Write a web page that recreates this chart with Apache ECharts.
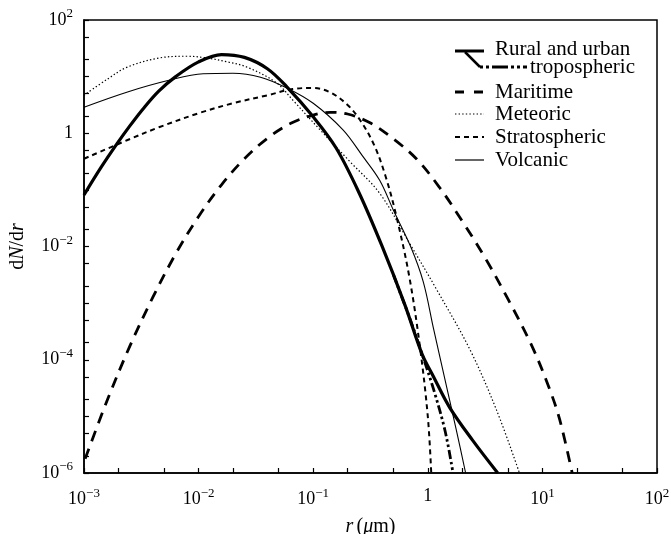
<!DOCTYPE html>
<html><head><meta charset="utf-8">
<script src="https://cdn.jsdelivr.net/npm/echarts@6/dist/echarts.min.js"></script>
<style>html,body{margin:0;padding:0;background:#fff}#c{width:671px;height:534px}</style>
</head><body><div id="c"></div>
<script>
// Tick values (log axes)
const xTickLabels = [0.001, 0.01, 0.1, 1, 10, 100];
const xTicks = [0.001,0.002,0.005,0.01,0.02,0.05,0.1,0.2,0.5,1,2,5,10,20,50,100];
const yTickLabels = [1e-6, 1e-4, 1e-2, 1, 100];
const yTicks = [1e-6,2e-6,5e-6,1e-5,2e-5,5e-5,1e-4,2e-4,5e-4,1e-3,2e-3,5e-3,1e-2,2e-2,5e-2,0.1,0.2,0.5,1,2,5,10,20,50,100];

// Curves, as log10(r [um]) and log10(dN/dr)
const ruralLogR = [-3.00,-2.85,-2.71,-2.60,-2.485,-2.35,-2.20,-2.00,-1.80,-1.60,-1.40,-1.23,-1.00,-0.80,-0.60,-0.40,-0.20,-0.05,0.05,0.19,0.39,0.61];
const ruralLogN = [-1.09,-0.60,-0.18,0.13,0.43,0.74,1.00,1.26,1.39,1.34,1.14,0.82,0.29,-0.26,-1.05,-1.99,-3.03,-3.90,-4.30,-4.84,-5.42,-6.00];

const tropoLogR = [-0.30,-0.15,-0.05,0.05,0.15,0.22];
const tropoLogN = [-2.50,-3.31,-3.90,-4.52,-5.25,-6.00];

const maritimeLogR = [-2.99,-2.80,-2.60,-2.40,-2.20,-2.00,-1.80,-1.60,-1.40,-1.20,-1.00,-0.85,-0.70,-0.50,-0.30,-0.10,0.10,0.30,0.50,0.70,0.90,1.05,1.15,1.26];
const maritimeLogN = [-5.75,-4.73,-3.76,-2.90,-2.13,-1.47,-0.91,-0.45,-0.09,0.17,0.32,0.37,0.34,0.18,-0.10,-0.45,-0.95,-1.55,-2.20,-2.93,-3.72,-4.45,-5.05,-6.00];

const meteoricLogR = [-3.00,-2.80,-2.62,-2.34,-2.10,-1.93,-1.75,-1.58,-1.32,-1.18,-0.94,-0.68,-0.42,-0.16,0.08,0.37,0.60,0.80];
const meteoricLogN = [0.67,0.95,1.17,1.33,1.36,1.33,1.26,1.17,0.89,0.59,0.06,-0.50,-1.06,-1.94,-2.77,-3.83,-4.89,-6.00];

const stratoLogR = [-3.00,-2.62,-2.34,-1.99,-1.70,-1.40,-1.18,-1.00,-0.85,-0.70,-0.59,-0.47,-0.37,-0.27,-0.16,-0.07,0.00,0.03];
const stratoLogN = [-0.45,-0.12,0.11,0.36,0.53,0.67,0.78,0.80,0.72,0.50,0.23,-0.20,-0.75,-1.50,-2.55,-3.75,-5.00,-6.00];

const volcanicLogR = [-3.00,-2.62,-2.25,-1.96,-1.70,-1.46,-1.23,-1.00,-0.74,-0.57,-0.42,-0.30,-0.15,-0.04,0.05,0.15,0.25,0.33];
const volcanicLogN = [0.46,0.73,0.94,1.05,1.06,0.99,0.80,0.53,0.06,-0.40,-0.83,-1.36,-2.00,-2.62,-3.45,-4.35,-5.25,-6.00];

const legendNames = ['Rural and urban', 'tropospheric', 'Maritime', 'Meteoric', 'Stratospheric', 'Volcanic'];

function pairs(lr, ln) { return lr.map((v, i) => [Math.pow(10, v), Math.pow(10, ln[i])]); }

const SERIF = '"Liberation Serif", "DejaVu Serif", serif';
function supFmt(v) {
  const e = Math.round(Math.log10(v));
  if (e === 0) return '{b|1}';
  return '{b|10}{s|' + (e < 0 ? '\u2212' + (-e) : e) + '}';
}
const labelRich = {
  b: { fontSize: 18, fontFamily: SERIF, color: '#000' },
  s: { fontSize: 13, fontFamily: SERIF, color: '#000', padding: [0, 0, 12, 0] }
};
const nameRich = {
  i: { fontSize: 20, fontFamily: SERIF, fontStyle: 'italic', color: '#000' },
  n: { fontSize: 20, fontFamily: SERIF, color: '#000' }
};

function line(name, data, width, dash) {
  return {
    type: 'line', name, data, symbol: 'none', smooth: 0.35, silent: true,
    lineStyle: { color: '#000', width, type: dash || 'solid', cap: 'butt' },
    z: 3
  };
}

const chart = echarts.init(document.getElementById('c'), null, { renderer: 'canvas' });
const LX = 455, LX2 = 484, TX = 495;
const legY = [51, 67, 92, 114, 137, 160];
const LFONT = '21px ' + SERIF;
chart.setOption({
  animation: false,
  backgroundColor: '#fff',
  grid: { left: 84, right: 14, top: 20, bottom: 61, show: true, borderColor: '#000', borderWidth: 1.5, backgroundColor: 'transparent', containLabel: false, outerBoundsMode: 'none' },
  xAxis: {
    type: 'log', logBase: 10, min: 0.001, max: 100,
    name: '{i|r} {n|(}{i|\u03bc}{n|m)}', nameLocation: 'middle', nameGap: 44,
    nameTextStyle: { rich: nameRich },
    axisLine: { show: true, lineStyle: { color: '#000', width: 1.5 } },
    axisTick: { show: true, inside: true, length: 5, customValues: xTicks, lineStyle: { color: '#000', width: 1.2 } },
    minorTick: { show: false },
    axisLabel: { customValues: xTickLabels, formatter: supFmt, rich: labelRich, margin: 14, showMinLabel: true, showMaxLabel: true },
    splitLine: { show: false }
  },
  yAxis: {
    type: 'log', logBase: 10, min: 1e-6, max: 100,
    name: '{n|d}{i|N}{n|/d}{i|r}', nameLocation: 'middle', nameGap: 56,
    nameTextStyle: { rich: nameRich },
    axisLine: { show: true, lineStyle: { color: '#000', width: 1.5 } },
    axisTick: { show: true, inside: true, length: 5, customValues: yTicks, lineStyle: { color: '#000', width: 1.2 } },
    minorTick: { show: false },
    axisLabel: { customValues: yTickLabels, formatter: supFmt, rich: labelRich, margin: 11, showMinLabel: true, showMaxLabel: true },
    splitLine: { show: false }
  },
  series: [
    line('Rural', pairs(ruralLogR, ruralLogN), 3.2),
    line('Urban tropospheric', pairs(tropoLogR, tropoLogN), 2.8, [9, 3, 2.5, 3, 2.5, 3]),
    line('Maritime', pairs(maritimeLogR, maritimeLogN), 2.8, [11, 8]),
    line('Meteoric', pairs(meteoricLogR, meteoricLogN), 1.2, [1.4, 2.2]),
    line('Stratospheric', pairs(stratoLogR, stratoLogN), 2.0, [5, 4]),
    line('Volcanic', pairs(volcanicLogR, volcanicLogN), 1.1)
  ],
  graphic: [
    { type: 'line', shape: { x1: LX, y1: legY[0], x2: LX2, y2: legY[0] }, style: { stroke: '#000', lineWidth: 3 } },
    { type: 'line', shape: { x1: LX + 10, y1: legY[0] + 1, x2: LX + 25, y2: legY[1] }, style: { stroke: '#000', lineWidth: 2.5 } },
    { type: 'line', shape: { x1: LX + 25, y1: legY[1], x2: 527, y2: legY[1] }, style: { stroke: '#000', lineWidth: 3, lineDash: [3, 3, 3, 3, 16, 3] } },
    { type: 'line', shape: { x1: LX, y1: legY[2], x2: LX2, y2: legY[2] }, style: { stroke: '#000', lineWidth: 3, lineDash: [9, 10] } },
    { type: 'line', shape: { x1: LX, y1: legY[3], x2: LX2, y2: legY[3] }, style: { stroke: '#000', lineWidth: 1.2, lineDash: [1.4, 2.2] } },
    { type: 'line', shape: { x1: LX, y1: legY[4], x2: LX2, y2: legY[4] }, style: { stroke: '#000', lineWidth: 2, lineDash: [5, 4] } },
    { type: 'line', shape: { x1: LX, y1: legY[5], x2: LX2, y2: legY[5] }, style: { stroke: '#000', lineWidth: 1.2 } },
    { type: 'text', x: TX, y: legY[0] - 2, style: { text: legendNames[0], font: LFONT, fill: '#000', verticalAlign: 'middle' } },
    { type: 'text', x: 530, y: legY[1], style: { text: legendNames[1], font: LFONT, fill: '#000', verticalAlign: 'middle' } },
    { type: 'text', x: TX, y: legY[2], style: { text: legendNames[2], font: LFONT, fill: '#000', verticalAlign: 'middle' } },
    { type: 'text', x: TX, y: legY[3], style: { text: legendNames[3], font: LFONT, fill: '#000', verticalAlign: 'middle' } },
    { type: 'text', x: TX, y: legY[4], style: { text: legendNames[4], font: LFONT, fill: '#000', verticalAlign: 'middle' } },
    { type: 'text', x: TX, y: legY[5], style: { text: legendNames[5], font: LFONT, fill: '#000', verticalAlign: 'middle' } }
  ]
});
</script>
</body></html>
